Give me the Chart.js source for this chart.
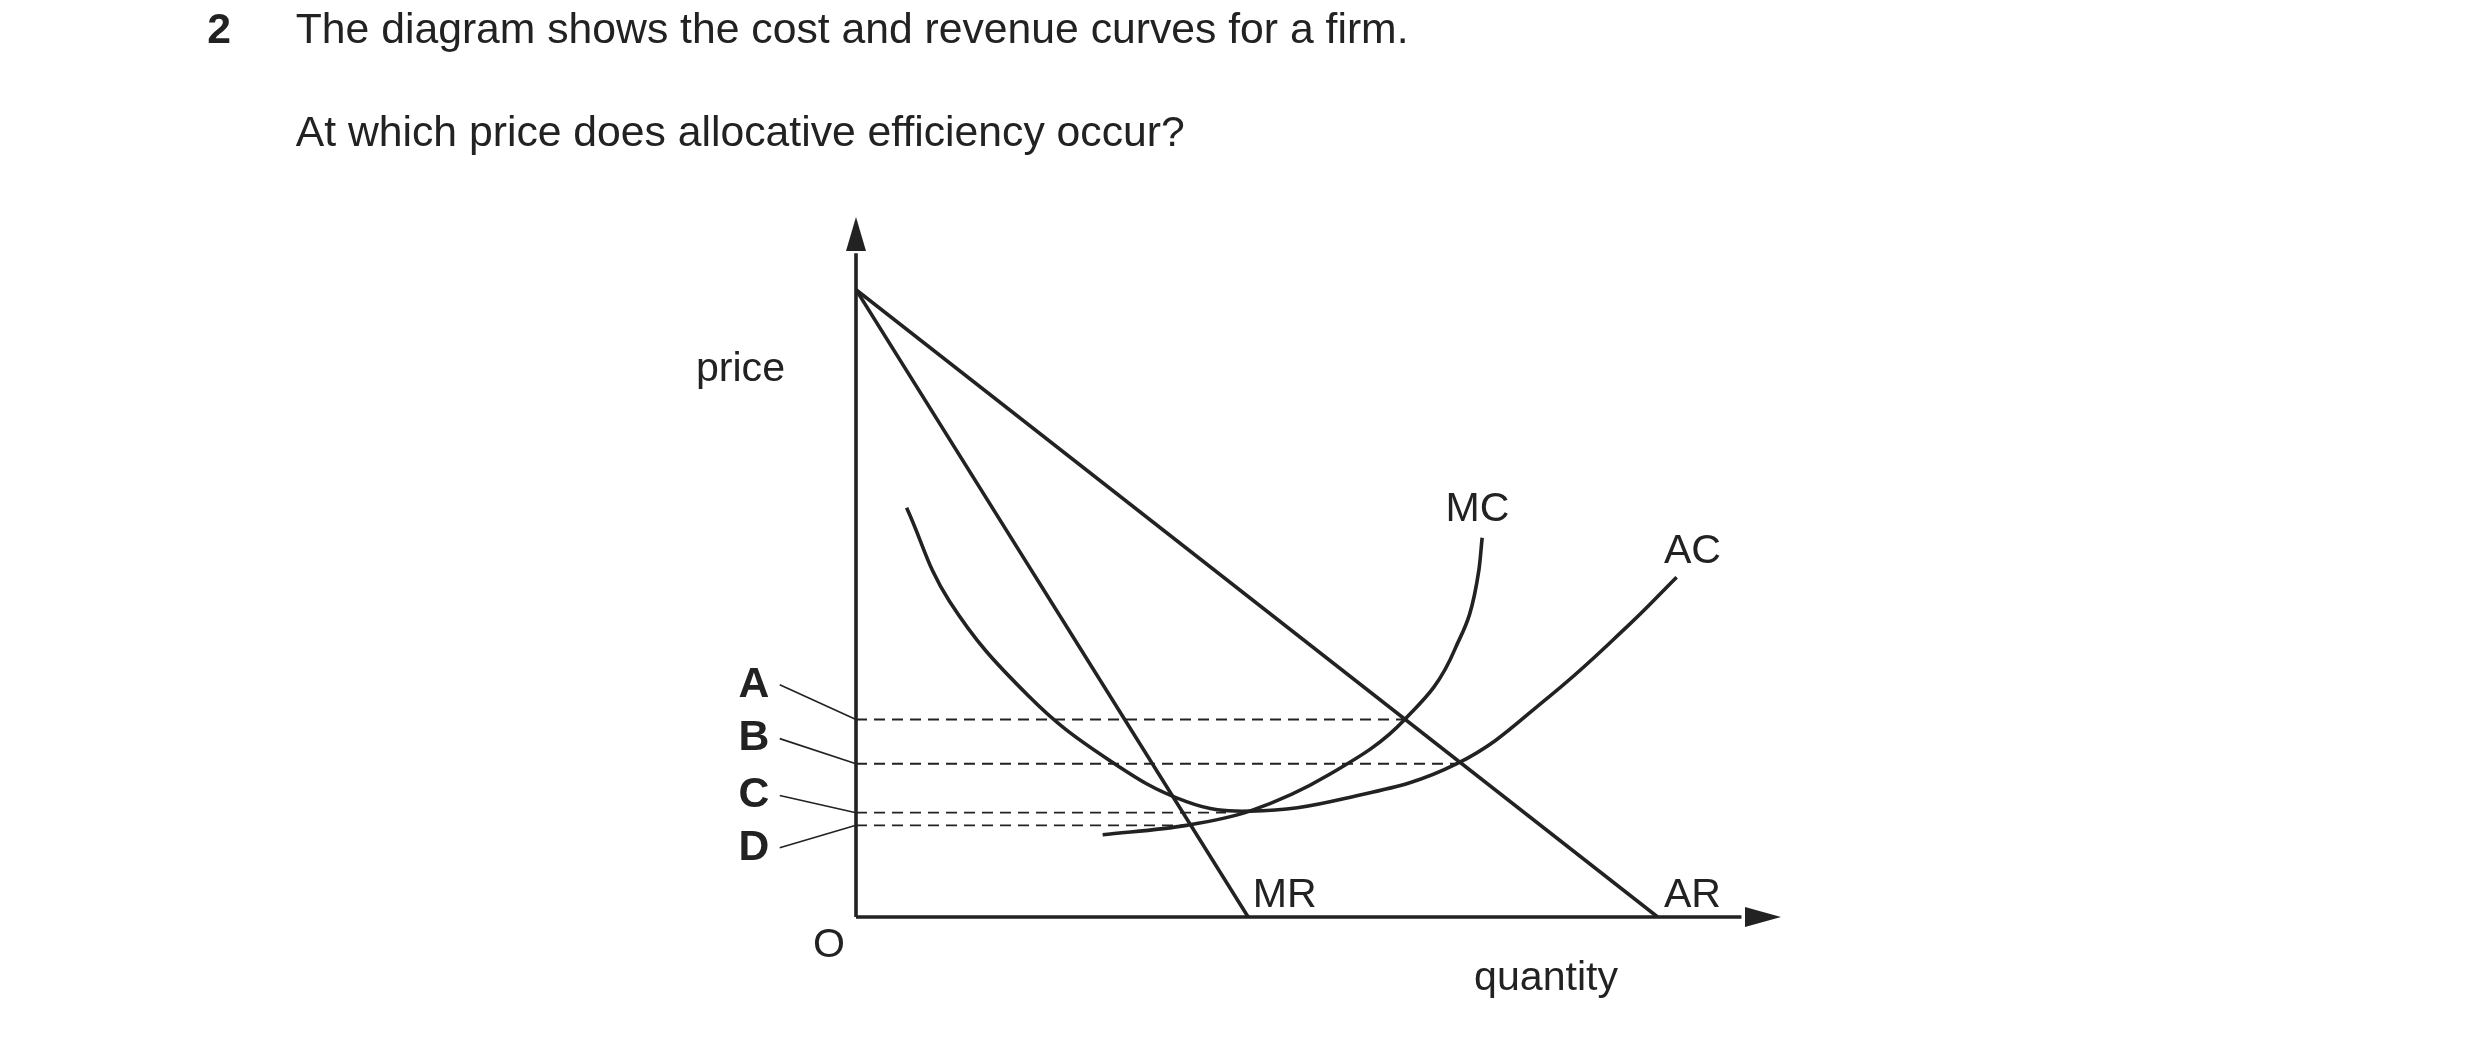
<!DOCTYPE html>
<html><head><meta charset="utf-8">
<script src="https://cdn.jsdelivr.net/npm/chart.js@4"></script>
<style>html,body{margin:0;padding:0;background:#fff}#c{display:block}</style>
</head><body>
<canvas id="c" width="2480" height="1043"></canvas>
<script>
const arPoints=[{x:0,y:397},{x:507,y:0}];
const mrPoints=[{x:0,y:397},{x:248,y:0}];
const mcPoints=[{x:156,y:52},{x:209,y:58},{x:249,y:67},{x:299,y:90},{x:347,y:125},{x:379,y:170},{x:394,y:220},{x:396,y:240}];
const acPoints=[{x:32,y:259},{x:59,y:200},{x:109,y:140},{x:159,y:100},{x:209,y:73},{x:249,y:67},{x:309,y:75},{x:380,y:97},{x:439,y:140},{x:489,y:185},{x:519,y:215}];
const priceLabels=['A','B','C','D'];
const priceLevels=[125,97,66,58];
const dashEnds=[347,380,234,207];
const S=2480/1568;
const F='"Liberation Sans", Arial, sans-serif';
const line=(d,extra)=>Object.assign({data:d,borderColor:'#222',borderWidth:3.6,pointRadius:0,fill:false},extra||{});
const datasets=[line(arPoints),line(mrPoints),line(mcPoints,{cubicInterpolationMode:'monotone'}),line(acPoints,{tension:0.4})];
priceLevels.forEach((p,i)=>datasets.push(line([{x:0,y:p},{x:dashEnds[i],y:p}],{borderWidth:1.8,borderDash:[11,7]})));
const deco={id:'deco',afterDraw(ch){
  const c=ch.ctx,xs=ch.scales.x,ys=ch.scales.y;
  const X=v=>xs.getPixelForValue(v),Y=v=>ys.getPixelForValue(v);
  c.save();c.strokeStyle='#222';c.fillStyle='#222';c.lineWidth=3.6;
  c.beginPath();c.moveTo(X(0),Y(0));c.lineTo(X(0),Y(420));c.moveTo(X(0),Y(0));c.lineTo(X(560),Y(0));c.stroke();
  // arrows
  c.beginPath();c.moveTo(X(0),Y(443));c.lineTo(X(0)-10,Y(443)+34);c.lineTo(X(0)+10,Y(443)+34);c.closePath();c.fill();
  c.beginPath();c.moveTo(X(585),Y(0));c.lineTo(X(585)-36,Y(0)-10);c.lineTo(X(585)-36,Y(0)+10);c.closePath();c.fill();
  // leaders
  c.lineWidth=1.6;
  const ly=[433,467,503,536];
  priceLevels.forEach((p,i)=>{c.beginPath();c.moveTo(493*S,ly[i]*S);c.lineTo(X(0),Y(p));c.stroke();});
  c.textBaseline='middle';
  c.font='bold '+(27*S)+'px '+F;
  priceLabels.forEach((l,i)=>c.fillText(l,467*S,ly[i]*S));
  c.fillText('2',131*S,20*S);
  c.font=(27*S)+'px '+F;
  c.fillText('The diagram shows the cost and revenue curves for a firm.',187*S,20*S);
  c.fillText('At which price does allocative efficiency occur?',187*S,85*S);
  c.font=(26*S)+'px '+F;
  c.fillText('price',440*S,234*S);
  c.fillText('MC',914*S,322*S);
  c.fillText('AC',1052*S,349*S);
  c.fillText('MR',792*S,566*S);
  c.fillText('AR',1052*S,566*S);
  c.fillText('O',514*S,598*S);
  c.fillText('quantity',932*S,619*S);
  c.restore();
}};
new Chart(document.getElementById('c'),{type:'line',data:{datasets},
 options:{responsive:false,animation:false,devicePixelRatio:1,
  layout:{padding:{left:856,top:217,right:699,bottom:126}},
  plugins:{legend:{display:false},tooltip:{enabled:false}},
  scales:{x:{type:'linear',min:0,max:585,display:false},y:{type:'linear',min:0,max:443,display:false}}},
 plugins:[deco]});
</script></body></html>
